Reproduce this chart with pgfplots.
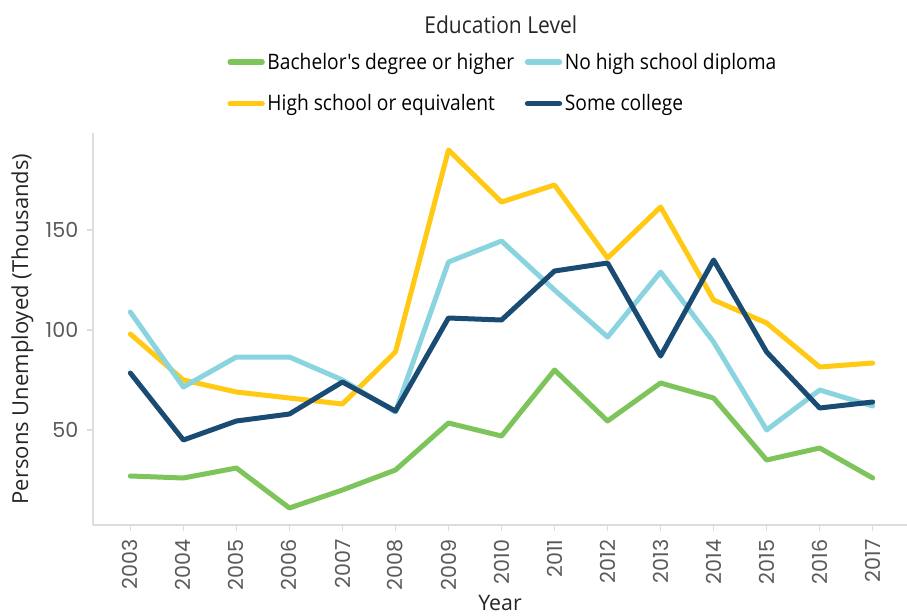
\documentclass[border=0pt]{standalone}
\usepackage{fontspec}
\setmainfont{Open Sans}
\newfontfamily\legfont[FakeStretch=0.9]{Open Sans}
\newfontfamily\tickfont{Poppins}
\usepackage{pgfplots}
\pgfplotsset{compat=1.18}
\definecolor{cgreen}{HTML}{7DC45A}
\definecolor{clblue}{HTML}{8AD4DF}
\definecolor{cyellow}{HTML}{FFC914}
\definecolor{cdblue}{HTML}{1A4B73}
\definecolor{tickgray}{HTML}{5A5A5A}
\definecolor{axgray}{HTML}{DDDDDD}
\begin{document}
\begin{tikzpicture}
\path[use as bounding box] (-69.75pt,-67.5pt) rectangle (610.5pt,393.75pt);
\begin{axis}[
  at={(0,0)}, anchor=south west,
  scale only axis, width=610.5pt, height=294pt,
  xmin=2002.296, xmax=2017.647, ymin=2.5, ymax=198.5,
  clip=false,
  axis x line=bottom, axis y line=left,
  axis line style={-, draw=axgray, line width=1pt},
  tick align=outside, major tick length=4.5pt,
  tick style={draw=axgray, line width=0.8pt},
  xtick={2003,...,2017}, ytick={50,100,150},
  /pgf/number format/.cd, 1000 sep={}, assume math mode=true, /pgfplots/.cd,
  xticklabel style={rotate=90, anchor=east, xshift=-3pt, font=\tickfont\fontsize{15.5}{15.5}\selectfont, text=tickgray},
  yticklabel style={font=\tickfont\fontsize{15.5}{15.5}\selectfont, text=tickgray, xshift=-3pt},
  xlabel={Year}, ylabel={Persons Unemployed (Thousands)},
  xlabel style={at={(axis description cs:0.5,0)}, anchor=center, yshift=-58.5pt, font=\fontsize{16}{16}\selectfont, text=black!85},
  ylabel style={at={(axis description cs:0,0.5)}, anchor=center, yshift=53pt, font=\fontsize{16.5}{16.5}\selectfont, text=black!85},
  legend columns=2, transpose legend,
  legend cell align=left,
  legend style={at={(axis description cs:0.504,1.128)}, anchor=center, draw=none, fill=none,
    font=\legfont\fontsize{16}{16}\selectfont, row sep=13.5pt,
    /tikz/every even column/.append style={column sep=6pt}},
  legend image code/.code={\draw[#1, line width=4pt] (0pt,0pt) -- (24pt,0pt);},
  every axis plot/.append style={line width=3.75pt, line join=round, line cap=round},
]
\addplot[cgreen] coordinates {(2003,27) (2004,26) (2005,31) (2006,11) (2007,20) (2008,30) (2009,53.5) (2010,47) (2011,80) (2012,54.5) (2013,73.5) (2014,66) (2015,35) (2016,41) (2017,26)};
\addlegendentry{Bachelor's degree or higher}
\addplot[cyellow] coordinates {(2003,98) (2004,75) (2005,69) (2006,66) (2007,63) (2008,89) (2009,190) (2010,164) (2011,172.5) (2012,136) (2013,161.5) (2014,115) (2015,103.5) (2016,81.5) (2017,83.5)};
\addlegendentry{High school or equivalent}
\addplot[clblue] coordinates {(2003,109) (2004,71.5) (2005,86.5) (2006,86.5) (2007,75) (2008,59) (2009,134) (2010,144.5) (2011,120) (2012,96.5) (2013,129) (2014,94) (2015,50) (2016,70) (2017,62)};
\addlegendentry{No high school diploma}
\addplot[cdblue] coordinates {(2003,78.5) (2004,45) (2005,54.5) (2006,58) (2007,74) (2008,59.5) (2009,106) (2010,105) (2011,129.5) (2012,133.5) (2013,87) (2014,135) (2015,89) (2016,61) (2017,64)};
\addlegendentry{Some college}
\node[font=\legfont\fontsize{17.5}{17.5}\selectfont, text=black!85] at (axis description cs:0.501,1.2755) {Education Level};
\end{axis}
\end{tikzpicture}
\end{document}
